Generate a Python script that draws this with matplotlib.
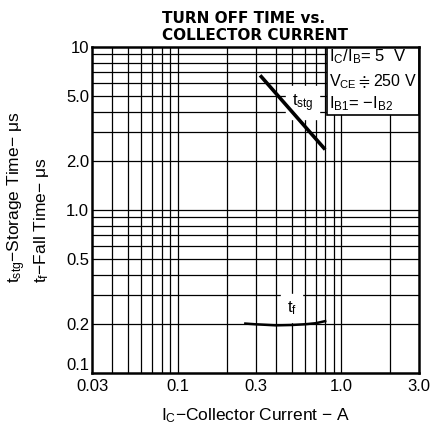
import matplotlib

matplotlib.use("Agg")
import matplotlib.pyplot as plt
from matplotlib.patches import Rectangle
from matplotlib.ticker import FixedLocator, NullFormatter

plt.rcParams["font.family"] = ["Liberation Sans", "DejaVu Sans"]
plt.rcParams["mathtext.default"] = "regular"

# storage time curve
ic_stg = [0.32, 0.8]
t_stg = [6.7, 2.35]

# fall time curve
ic_f = [0.26, 0.3, 0.4, 0.5, 0.6, 0.7, 0.8]
t_f = [0.201, 0.199, 0.196, 0.197, 0.199, 0.202, 0.208]

x_ticks = [0.03, 0.1, 0.3, 1.0, 3.0]
x_ticklabels = ["0.03", "0.1", "0.3", "1.0", "3.0"]
y_ticks = [0.1, 0.2, 0.5, 1.0, 2.0, 5.0, 10]
y_ticklabels = ["0.1", "0.2", "0.5", "1.0", "2.0", "5.0", "10"]

x_grid = [0.04, 0.05, 0.06, 0.07, 0.08, 0.09, 0.1, 0.2, 0.3, 0.4, 0.5,
          0.6, 0.7, 0.8, 0.9, 1.0, 2.0]
y_grid = [0.2, 0.3, 0.4, 0.5, 0.6, 0.7, 0.8, 0.9, 1, 2, 3, 4, 5, 6, 7, 8, 9]

fig = plt.figure(figsize=(4.33, 4.24), dpi=100)
ax = fig.add_axes([0.2125, 0.1203, 0.7552, 0.7689])
ax.set_xscale("log")
ax.set_yscale("log")
ax.set_xlim(0.03, 3.0)
ax.set_ylim(0.1, 10)

for xv in x_grid:
    ax.axvline(xv, color="black", lw=0.9, zorder=1)
for yv in y_grid:
    ax.axhline(yv, color="black", lw=0.9, zorder=1)

ax.xaxis.set_major_locator(FixedLocator(x_ticks))
ax.set_xticklabels(x_ticklabels)
ax.yaxis.set_major_locator(FixedLocator(y_ticks))
ax.set_yticklabels(y_ticklabels)
ax.xaxis.set_minor_locator(FixedLocator([]))
ax.yaxis.set_minor_locator(FixedLocator([]))
ax.xaxis.set_minor_formatter(NullFormatter())
ax.yaxis.set_minor_formatter(NullFormatter())
ax.tick_params(length=0, labelsize=12)
ax.tick_params(axis="y", pad=2)
ax.tick_params(axis="x", pad=4)
# nudge the bottom y label up like the original
ax.get_yticklabels()[0].set_va("bottom")

for sp in ax.spines.values():
    sp.set_linewidth(1.8)

# condition box
ax.add_patch(Rectangle((0.82, 3.85), 3.0 - 0.82, 10 - 3.85, facecolor="white",
                       edgecolor="black", lw=1.2, zorder=2))
ax.text(0.84, 8.7, r"I$_{C}$/I$_{B}$= 5  V", fontsize=12, va="center", zorder=3)
ax.text(0.84, 6.1, r"V$_{CE}$$\doteqdot$250 V", fontsize=11.5, va="center",
        zorder=3)
ax.text(0.84, 4.5, r"I$_{B1}$= −I$_{B2}$", fontsize=12, va="center", zorder=3)

ax.plot(ic_stg, t_stg, color="black", lw=2.6, solid_capstyle="butt", zorder=4)
ax.plot(ic_f, t_f, color="black", lw=1.8, zorder=4)

ax.text(0.5, 4.55, r"t$_{stg}$", fontsize=12, ha="left", va="center",
        backgroundcolor="white", zorder=3)
ax.text(0.5, 0.25, r"t$_{f}$", fontsize=12, ha="center", va="center",
        backgroundcolor="white", zorder=3)

fig.text(0.563, 1 - 23 / 424, "TURN OFF TIME vs.", ha="center",
         va="baseline", fontsize=11, fontweight="bold", family="DejaVu Sans")
fig.text(0.59, 1 - 40 / 424, "COLLECTOR CURRENT", ha="center",
         va="baseline", fontsize=11, fontweight="bold", family="DejaVu Sans")

ax.set_xlabel(r"I$_{C}$−Collector Current − A", fontsize=12.5, labelpad=9)
fig.text(0.039, 0.3325, r"t$_{stg}$−Storage Time− $\mu$s", rotation=90,
         rotation_mode="anchor", ha="left", va="center", fontsize=12.5)
fig.text(0.095, 0.3325, r"t$_{f}$−Fall Time− $\mu$s", rotation=90,
         rotation_mode="anchor", ha="left", va="center", fontsize=12.5)

fig.savefig("out.png", dpi=100)
